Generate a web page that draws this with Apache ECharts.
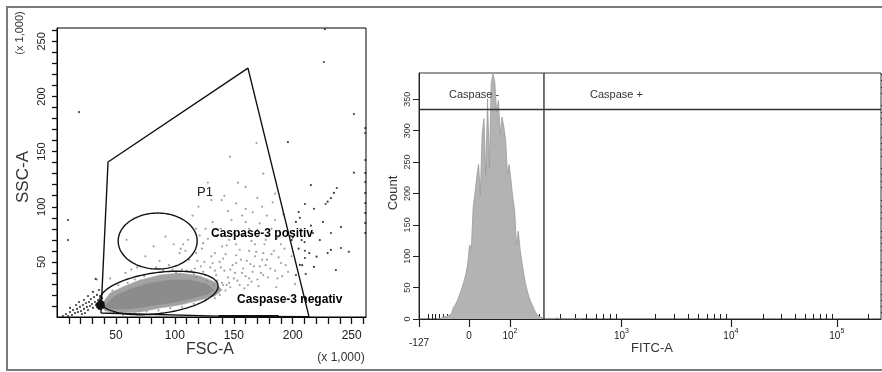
<!DOCTYPE html>
<html><head><meta charset="utf-8">
<script src="https://cdn.jsdelivr.net/npm/echarts@6/dist/echarts.min.js"></script>
<style>html,body{margin:0;padding:0;background:#fff}#c{width:882px;height:372px}</style>
</head><body><div id="c"></div>
<script>
// ================= LEFT PANEL: FSC-A vs SSC-A (x 1,000) =================
const fscRange = [0, 262.144];
const sscRange = [0, 262.144];
const fscTickValues = [10,20,30,40,50,60,70,80,90,100,110,120,130,140,150,160,170,180,190,200,210,220,230,240,250,260];
const fscLabelValues = [50,100,150,200,250];
const sscTickValues = [10,20,30,40,50,60,70,80,90,100,110,120,130,140,150,160,170,180,190,200,210,220,230,240,250,260];
const sscLabelValues = [50,100,150,200,250];

// gate P1 polygon
const gateP1 = [[37.3,3.6],[43.3,140.6],[162,225.8],[213.8,0.3],[137,0.8],[60,3],[37.3,3.6]];
// thick segment at the bottom of the gate
const gateBottom = [[137,0.6],[188,0.6]];
// ellipse gates: center, radii (x units, y units), tilt in degrees
const ellPosCenter = [85.4,68.9], ellPosRadius = [33.5,25.4], ellPosTilt = [0];
const ellNegCenter = [86.5,21.8], ellNegRadius = [50.5,18.6], ellNegTilt = [7.5];

// dense main population (outer speckled halo and inner dense core)
const popHalo = [[37.3,10.9],[45,21.8],[57.7,28.1],[70.4,33.6],[87.4,38.1],[104.3,39.9],[121.3,37.2],[134,31.7],[140,24.5],[134,19],[121.3,15.4],[104.3,10.9],[87.4,8.2],[70.4,4.5],[53.4,3.6],[40.7,5.4]];
const popCore = [[40,10],[49.2,19],[62,25.4],[78.9,30.8],[95.9,33.6],[112.8,33.6],[127.2,29.9],[133.2,24.5],[128.1,20.9],[112.8,16.3],[95.9,12.7],[78.9,10],[62,7.3],[46.7,7.3]];
const debrisCore = [[33,12],[36.5,16],[40,13.5],[40.5,8.5],[36.5,6.5],[33.5,8.5]];

// sparse events inside P1 (gray)
const grayEvents = [
 [114,30],[118,36],[121,27],[124,41],[127,33],[130,45],[133,29],[135,38],[138,50],[140,31],[142,42],[145,36],[147,27],[149,47],[151,40],[153,33],[156,52],[158,44],[160,37],[162,29],[164,48],[166,41],[168,55],[170,34],[172,46],[117,44],[125,50],[131,55],[137,25],[143,57],[152,56],[159,26],[165,32],[171,28],[119,51],[146,31],
 [110,26],[113,33],[116,39],[120,31],[122,46],[126,38],[129,27],[132,49],[134,42],[136,33],[139,45],[141,53],[144,29],[147,43],[150,35],[152,49],[155,29],[157,40],[161,51],[163,35],[167,46],[169,59],[173,40],[174,52],[177,47],[179,36],[182,57],[185,42],[188,54],[191,37],[194,47],
 [140,64],[146,70],[152,66],[158,74],[163,80],[168,66],[172,85],[177,70],[182,80],[187,72],[157,92],[166,95],[174,100],[135,74],[126,80],[118,58],[112,52],
 [175,38],[178,52],[181,44],[184,60],[187,35],[190,49],[193,62],[196,41],[199,55],[202,30],[176,66],[186,27],
 [123,62],[128,71],[134,58],[139,80],[144,65],[150,76],[155,61],[160,86],[165,69],[170,79],[175,58],[180,74],[185,88],[190,66],[148,88],[132,86],[163,60],[178,92],[192,93],
 [120,100],[131,106],[142,110],[152,103],[160,98],[170,108],[183,104],[145,96],[115,92],
 [59,70],[82,64],[75,55],[99,66],[105,62],[107,66],[109,60],[104,58],[87,51],[63,43],[68,45],[58,40],[45,35],[34,34],[92,73],[111,70],[118,80],[121,74],[124,67],[84,45],[95,47],[101,40],[110,42],
 [146.7,145.4],[169.3,157.8],[153.5,121.8],[139.7,106.1],[175,130],[160,118],[128,122],[185,112],
 [47,24],[52,29],[60,31],[66,34],[74,37],[82,40],[90,42],[98,43],[106,43],[114,42],[48,4],[56,2],[66,3],[76,5],[86,6],[96,8],[106,9],[116,12],[126,15],[134,17],[138,20],[143,24],[141,29]
];
// events outside P1 (black)
const blackEvents = [
 [5.1,0.9],[7.6,2.7],[9.3,0.9],[11,4.5],[12.7,1.8],[13.6,6.3],[15.3,3.6],[17,7.3],[17.8,4.5],[19.5,9.1],[20.4,5.4],[22,10.9],[22.9,7.3],[23.7,3.6],[24.6,12.7],[25.4,9.1],[26.3,6.3],[27.1,13.6],[28,10],[28.8,16.3],[29.7,11.8],[30.5,8.2],[31.4,18.1],[32.2,13.6],[33.1,10.9],[33.9,20],[34.8,15.4],[35.6,7.3],[36.5,19],[37.3,12.7],[38.2,17.2],[39,10],[26.3,19],[22.9,15.4],[18.7,13.6],[30.5,22.7],[35.6,24.5],[16.1,10.9],[11,8.2],[21.2,2.7],[32.8,34.5],
 [227.3,261.2],[226.4,231.3],[18.7,185.9],[251.9,184.1],[9.3,88],[9.3,69.8],[251.9,130.9],[215.4,119.7],[237.4,117],[234.9,112.5],[232.4,107.9],[229.6,104.6],[227.9,102.5],[218,98.2],[240.9,81.6],[225.6,86.2],[232.4,76.2],[240.9,62.6],[247.6,59.2],[232.4,60.8],[229.6,58],[220.2,54.7],[218,45.4],[215.4,82.8],[217.1,76.2],[223,69.8],[236.6,42.6],[195.9,158.7],
 [210.3,102.5],[205,95.2],[207.5,69.8],[210.3,60.1],[210.3,53.5],[199,69.8],[202.7,86.2],[206,47.2],[202.7,38.1],
 [205,62],[208,47],[211,39],[214,58],[200,72],[210,68],[201,78],[206,90],
 [261.5,171.4],[261.5,166.9],[261.5,142.4],[261.5,130.6],[261.5,122.4],[261.5,112.5],[261.5,103.4],[261.5,94.3],[261.5,85.3],[261.5,76.2]
];

// ================= RIGHT PANEL: FITC-A histogram =================
// biexponential (logicle) display: T, M (decades), W (linearisation width)
const logicleT = [262144], logicleM = [4.38], logicleW = [0.475];
const fitcRange = [-127, 262144];
const fitcLabelValues = [-127, 0, 100, 1000, 10000, 100000];
const fitcMinorValues = [-100,-90,-80,-70,-60,-50,-40,-30,-20,-10,10,20,30,40,50,60,70,80,90,
  200,300,400,500,600,700,800,900,2000,3000,4000,5000,6000,7000,8000,9000,
  20000,30000,40000,50000,60000,70000,80000,90000,200000];
const countRange = [0, 392];
const countLabelValues = [0,50,100,150,200,250,300,350];
const countMinorValues = [10,20,30,40,60,70,80,90,110,120,130,140,160,170,180,190,210,220,230,240,260,270,280,290,310,320,330,340,360,370,380,390];
// histogram: counts per display channel (256 channels across the axis), starting at channel 10
const histStartChannel = 10;
const histCounts = [0,1,2,3,4,5,6,8,11,18,22,28,35,43,51,61,72,88,118,112,177,200,225,247,198,295,319,230,351,240,375,391,378,330,348,294,322,306,286,232,246,220,193,174,118,140,112,91,73,57,45,35,27,21,14,9,5,3,1,0,0,0,1,0,0,0,2,0,0,0,0,0,0,0,0,0,1,0,0,0,0];
const gateFITC = [218];
const gateBarCount = [334];

// ---------- logicle transform ----------
const LN10 = Math.LN10;
const lm = logicleM[0]*LN10, lw = logicleW[0]*LN10;
const lp = (function(){let lo=1.0001,hi=50,mid=2;for(let i=0;i<200;i++){mid=(lo+hi)/2;const f=2*mid*Math.log(mid)/(mid+1);if(f<lw)lo=mid;else hi=mid;}return mid;})();
function Sfun(y){
  if (y>=lw) return logicleT[0]*Math.exp(-(lm-lw))*(Math.exp(y-lw)-lp*lp*Math.exp(-(y-lw)/lp)+lp*lp-1);
  return -Sfun(2*lw-y);
}
const CH = 256;
function toDisp(v){
  let lo=-2, hi=lm+0.5;
  for(let i=0;i<200;i++){const mid=(lo+hi)/2; if(Sfun(mid)<v) lo=mid; else hi=mid;}
  return (lo+hi)/2/lm*CH;
}
const dispMin = toDisp(fitcRange[0]), dispMax = toDisp(fitcRange[1]);
const dispLabels = fitcLabelValues.map(toDisp);
const dispMinor = fitcMinorValues.map(toDisp);
function fitcLabelText(v){
  if (v < 0) return '{neg|' + v + '}';
  if (v === 0) return '{n|0}';
  return '{n|10}{s|' + Math.round(Math.log10(v)) + '}';
}

const histData = histCounts.map((c,i)=>[histStartChannel+i+0.5, c]);

// ---------- helpers ----------
const FONT = 'Liberation Sans, Arial, sans-serif';
function polySeries(points, fill, z){
  return {type:'custom', xAxisIndex:0, yAxisIndex:0, clip:true, silent:true, z:z, data:[points[0]],
    renderItem:(params, api)=>({type:'polygon', shape:{points: points.map(p=>api.coord(p))}, style:{fill:fill, stroke:fill, lineWidth:0.5}})};
}
function ellipseSeries(center, radius, tilt){
  return {type:'custom', xAxisIndex:0, yAxisIndex:0, clip:false, silent:true, z:6, data:[center],
    renderItem:(params, api)=>{
      const c = api.coord(center);
      const rx = api.size([radius[0],0])[0], ry = api.size([0,radius[1]])[1];
      const r = tilt[0]*Math.PI/180, pts=[];
      for(let k=0;k<=120;k++){const t=k/120*2*Math.PI; const ex=rx*Math.cos(t), ey=ry*Math.sin(t);
        pts.push([c[0]+ex*Math.cos(r)-ey*Math.sin(r), c[1]-(ex*Math.sin(r)+ey*Math.cos(r))]);}
      return {type:'polyline', shape:{points:pts}, style:{fill:'none', stroke:'#111', lineWidth:1.4}};
    }};
}

const chart = echarts.init(document.getElementById('c'), null, {renderer:'canvas'});
const option = {
  animation:false,
  backgroundColor:'#fff',
  textStyle:{fontFamily:FONT},
  grid:[
    {left:57, top:28, width:309, height:289, show:true, borderColor:'#000', borderWidth:1, backgroundColor:'#fff'},
    {left:419, top:73, width:462, height:246, show:true, borderColor:'#333', borderWidth:1, backgroundColor:'#fff'}
  ],
  xAxis:[
    {gridIndex:0, type:'value', min:fscRange[0], max:fscRange[1],
     axisLine:{show:true,onZero:false,lineStyle:{color:'#000',width:1}},
     axisTick:{show:true,length:7,customValues:fscTickValues,lineStyle:{color:'#111',width:1.3}},
     axisLabel:{customValues:fscLabelValues,fontSize:12,color:'#222',margin:13,fontFamily:FONT},
     splitLine:{show:false}},
    {gridIndex:1, type:'value', min:dispMin, max:dispMax,
     axisLine:{show:true,onZero:false,lineStyle:{color:'#222',width:1}},
     axisTick:{show:true,length:8,customValues:dispLabels,lineStyle:{color:'#222',width:1.2}},
     axisLabel:{customValues:dispLabels,margin:9,color:'#222',fontFamily:FONT,
       formatter:(val)=>{let bi=0,bd=1e9;dispLabels.forEach((d,i)=>{if(Math.abs(d-val)<bd){bd=Math.abs(d-val);bi=i;}});return fitcLabelText(fitcLabelValues[bi]);},
       rich:{n:{fontSize:10,color:'#222',fontFamily:FONT,lineHeight:13,verticalAlign:'bottom'},
             s:{fontSize:7,color:'#222',fontFamily:FONT,lineHeight:13,verticalAlign:'top'},
             neg:{fontSize:10,color:'#222',fontFamily:FONT,padding:[10,0,0,0]}}},
     splitLine:{show:false}},
    {gridIndex:1, type:'value', min:dispMin, max:dispMax,
     axisLine:{show:false},
     axisTick:{show:true,length:5,customValues:dispMinor,lineStyle:{color:'#222',width:1}},
     axisLabel:{show:false}, splitLine:{show:false}}
  ],
  yAxis:[
    {gridIndex:0, type:'value', min:sscRange[0], max:sscRange[1],
     axisLine:{show:true,onZero:false,lineStyle:{color:'#000',width:1}},
     axisTick:{show:true,length:5,customValues:sscTickValues,lineStyle:{color:'#111',width:1.3}},
     axisLabel:{customValues:sscLabelValues,rotate:90,fontSize:11,color:'#222',margin:10,fontFamily:FONT},
     splitLine:{show:false}},
    {gridIndex:1, type:'value', min:countRange[0], max:countRange[1],
     axisLine:{show:true,onZero:false,lineStyle:{color:'#222',width:1}},
     axisTick:{show:true,length:6,customValues:countLabelValues,lineStyle:{color:'#222',width:1}},
     axisLabel:{customValues:countLabelValues,rotate:90,fontSize:9,color:'#333',margin:7,fontFamily:FONT},
     splitLine:{show:false}},
    {gridIndex:1, type:'value', min:countRange[0], max:countRange[1],
     axisLine:{show:false},
     axisTick:{show:true,length:4,customValues:countMinorValues,lineStyle:{color:'#222',width:1}},
     axisLabel:{show:false}, splitLine:{show:false}}
  ],
  series:[
    polySeries(popHalo, '#a2a2a2', 1),
    polySeries(popCore, '#8c8c8c', 2),
    polySeries(debrisCore, '#111', 2),
    {type:'scatter', xAxisIndex:0, yAxisIndex:0, data:grayEvents, symbol:'circle', symbolSize:2.2, itemStyle:{color:'#8a8a8a'}, z:3, silent:true},
    {type:'scatter', xAxisIndex:0, yAxisIndex:0, data:blackEvents, symbol:'circle', symbolSize:2.2, itemStyle:{color:'#111'}, z:3, silent:true},
    {type:'line', xAxisIndex:0, yAxisIndex:0, data:gateP1, symbol:'none', lineStyle:{color:'#111',width:1.4}, z:5, silent:true},
    {type:'line', xAxisIndex:0, yAxisIndex:0, data:gateBottom, symbol:'none', lineStyle:{color:'#111',width:2.5}, z:5, silent:true},
    ellipseSeries(ellPosCenter, ellPosRadius, ellPosTilt),
    ellipseSeries(ellNegCenter, ellNegRadius, ellNegTilt),
    {type:'line', xAxisIndex:1, yAxisIndex:1, data:histData, step:'middle', symbol:'none',
     lineStyle:{color:'#9a9a9a',width:0.8}, areaStyle:{color:'#b3b3b3',opacity:1}, z:2, silent:true},
    {type:'line', xAxisIndex:1, yAxisIndex:1, data:[[dispMin,gateBarCount[0]],[dispMax,gateBarCount[0]]], symbol:'none', lineStyle:{color:'#333',width:1.5}, z:4, silent:true},
    {type:'line', xAxisIndex:1, yAxisIndex:1, data:[[toDisp(gateFITC[0]),countRange[0]],[toDisp(gateFITC[0]),countRange[1]]], symbol:'none', lineStyle:{color:'#444',width:1.5}, z:4, silent:true}
  ],
  graphic:[
    {type:'rect', shape:{x:7,y:7,width:890,height:363}, style:{fill:'none',stroke:'#7a7a7a',lineWidth:2}, z:100},
    {type:'text', x:23, y:177, rotation:Math.PI/2, style:{text:'SSC-A', fill:'#333', font:'17px '+FONT, align:'center', verticalAlign:'middle'}},
    {type:'text', x:20, y:33, rotation:Math.PI/2, style:{text:'(x 1,000)', fill:'#333', font:'11px '+FONT, align:'center', verticalAlign:'middle'}},
    {type:'text', x:210, y:350, style:{text:'FSC-A', font:'16px '+FONT, fill:'#333', align:'center', verticalAlign:'middle'}},
    {type:'text', x:341, y:358, style:{text:'(x 1,000)', font:'12px '+FONT, fill:'#333', align:'center', verticalAlign:'middle'}},
    {type:'text', x:205, y:192, style:{text:'P1', font:'13px '+FONT, fill:'#222', align:'center', verticalAlign:'middle'}},
    {type:'text', x:211, y:234, style:{text:'Caspase-3 positiv', font:'bold 12px '+FONT, fill:'#000', align:'left', verticalAlign:'middle'}, z:50},
    {type:'text', x:237, y:300, style:{text:'Caspase-3 negativ', font:'bold 12px '+FONT, fill:'#000', align:'left', verticalAlign:'middle'}, z:50},
    {type:'text', x:393, y:193, rotation:Math.PI/2, style:{text:'Count', font:'13px '+FONT, fill:'#333', align:'center', verticalAlign:'middle'}},
    {type:'text', x:652, y:348, style:{text:'FITC-A', font:'13px '+FONT, fill:'#333', align:'center', verticalAlign:'middle'}},
    {type:'text', x:449, y:95, style:{text:'Caspase -', font:'11px '+FONT, fill:'#333', align:'left', verticalAlign:'middle'}, z:50},
    {type:'text', x:590, y:95, style:{text:'Caspase +', font:'11px '+FONT, fill:'#333', align:'left', verticalAlign:'middle'}, z:50}
  ]
};
chart.setOption(option);
</script>
</body></html>
